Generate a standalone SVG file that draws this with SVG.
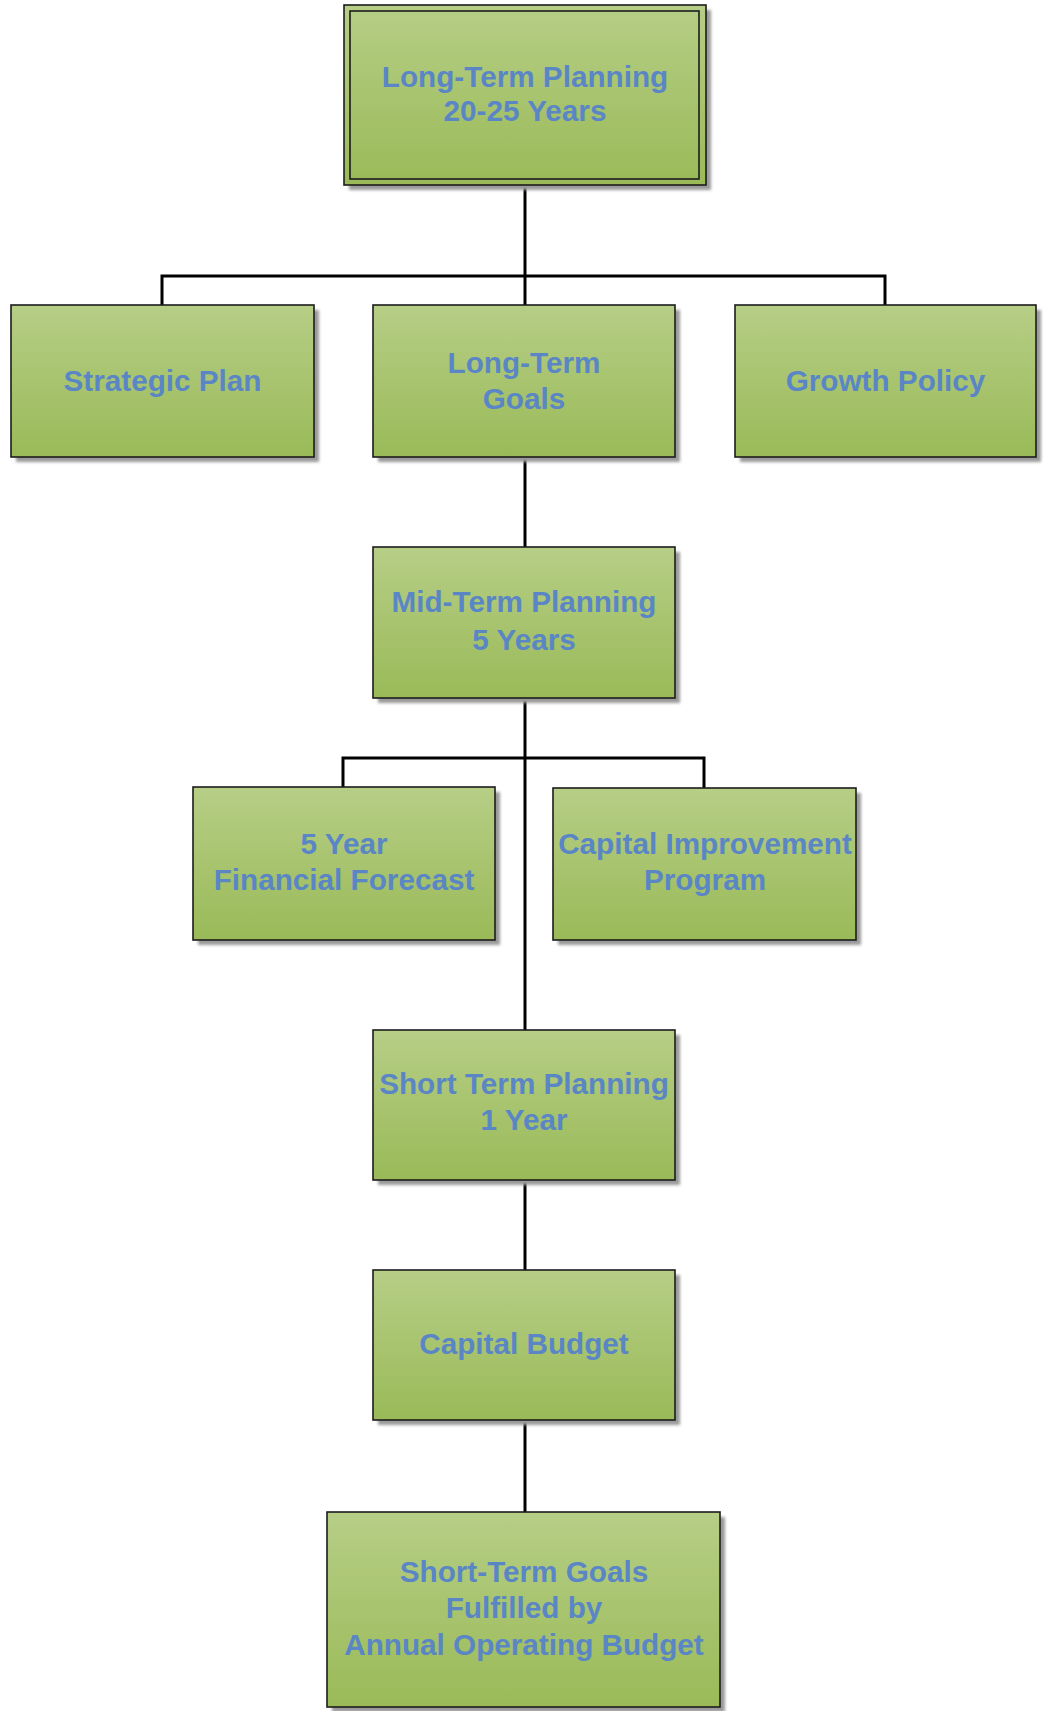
<svg xmlns="http://www.w3.org/2000/svg" width="1046" height="1711" viewBox="0 0 1046 1711">
  <defs>
    <linearGradient id="greenFill" x1="0" y1="0" x2="0" y2="1">
      <stop offset="0" stop-color="#b6ce86"/>
      <stop offset="1" stop-color="#9aba58"/>
    </linearGradient>
    <filter id="soft" x="-5%" y="-5%" width="115%" height="115%">
      <feGaussianBlur stdDeviation="1.5"/>
    </filter>
  </defs>
  <style>
    .box { fill: url(#greenFill); stroke: #1c1c1c; stroke-width: 1.6; }
    .shadow { fill: #9a9a9a; filter: url(#soft); }
    .label { font-family: "Liberation Sans", Arial, sans-serif; font-weight: bold; font-size: 29.7px; fill: #5a86c6; text-anchor: middle; }
    .wire { fill: none; stroke: #000; stroke-width: 3; }
  </style>
  <rect width="1046" height="1711" fill="#ffffff"/>

  <g id="connectors">
    <path class="wire" d="M525 185 V305"/>
    <path class="wire" d="M162 305 V276 H885 V305"/>
    <path class="wire" d="M525 457 V547"/>
    <path class="wire" d="M525 698 V1030"/>
    <path class="wire" d="M343 787 V758 H704 V788"/>
    <path class="wire" d="M525 1180 V1270"/>
    <path class="wire" d="M525 1420 V1512"/>
  </g>

  <g id="long-term-planning">
    <rect class="shadow" x="349" y="10" width="362" height="180"/>
    <rect class="box" x="344" y="5" width="362" height="180"/>
    <rect fill="none" stroke="#1c1c1c" stroke-width="1.6" x="350" y="11" width="349" height="168"/>
    <text class="label" x="525" y="87">Long-Term Planning</text>
    <text class="label" x="525" y="121">20-25 Years</text>
  </g>

  <g id="strategic-plan">
    <rect class="shadow" x="16" y="310" width="303" height="152"/>
    <rect class="box" x="11" y="305" width="303" height="152"/>
    <text class="label" x="162.5" y="391">Strategic Plan</text>
  </g>

  <g id="long-term-goals">
    <rect class="shadow" x="378" y="310" width="302" height="152"/>
    <rect class="box" x="373" y="305" width="302" height="152"/>
    <text class="label" x="524" y="373">Long-Term</text>
    <text class="label" x="524" y="409">Goals</text>
  </g>

  <g id="growth-policy">
    <rect class="shadow" x="740" y="310" width="301" height="152"/>
    <rect class="box" x="735" y="305" width="301" height="152"/>
    <text class="label" x="885.5" y="391">Growth Policy</text>
  </g>

  <g id="mid-term-planning">
    <rect class="shadow" x="378" y="552" width="302" height="151"/>
    <rect class="box" x="373" y="547" width="302" height="151"/>
    <text class="label" x="524" y="612">Mid-Term Planning</text>
    <text class="label" x="524" y="650">5 Years</text>
  </g>

  <g id="financial-forecast">
    <rect class="shadow" x="198" y="792" width="302" height="153"/>
    <rect class="box" x="193" y="787" width="302" height="153"/>
    <text class="label" x="344" y="854">5 Year</text>
    <text class="label" x="344" y="890">Financial Forecast</text>
  </g>

  <g id="capital-improvement">
    <rect class="shadow" x="558" y="793" width="303" height="152"/>
    <rect class="box" x="553" y="788" width="303" height="152"/>
    <text class="label" x="705" y="854">Capital Improvement</text>
    <text class="label" x="705" y="890">Program</text>
  </g>

  <g id="short-term-planning">
    <rect class="shadow" x="378" y="1035" width="302" height="150"/>
    <rect class="box" x="373" y="1030" width="302" height="150"/>
    <text class="label" x="524" y="1094">Short Term Planning</text>
    <text class="label" x="524" y="1130">1 Year</text>
  </g>

  <g id="capital-budget">
    <rect class="shadow" x="378" y="1275" width="302" height="150"/>
    <rect class="box" x="373" y="1270" width="302" height="150"/>
    <text class="label" x="524" y="1354">Capital Budget</text>
  </g>

  <g id="short-term-goals">
    <rect class="shadow" x="332" y="1517" width="393" height="195"/>
    <rect class="box" x="327" y="1512" width="393" height="195"/>
    <text class="label" x="524" y="1582">Short-Term Goals</text>
    <text class="label" x="524" y="1618">Fulfilled by</text>
    <text class="label" x="524" y="1655">Annual Operating Budget</text>
  </g>
</svg>
